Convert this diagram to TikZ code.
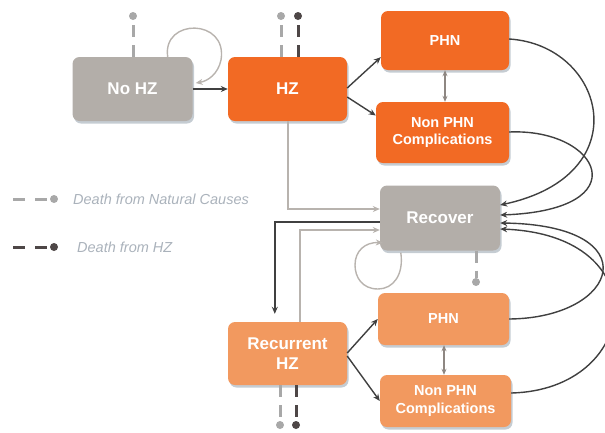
\documentclass[tikz,border=0pt]{standalone}
\usepackage{fontspec}
\setmainfont{Liberation Sans}
\usetikzlibrary{arrows.meta,shadows,calc}
\definecolor{orA}{HTML}{F26A24}
\definecolor{orB}{HTML}{F2995F}
\definecolor{grB}{HTML}{B3AEA9}
\definecolor{dk}{HTML}{404040}
\definecolor{lt}{HTML}{B8B3AE}
\definecolor{md}{HTML}{8E8782}
\definecolor{lg}{HTML}{AAB2BB}
\definecolor{dth}{HTML}{A8A8A8}
\definecolor{dthd}{HTML}{4E4747}
\definecolor{shd}{HTML}{7E8E9C}
\begin{document}
\begin{tikzpicture}[x=1pt,y=-1pt,
  box/.style={rounded corners=7pt, text=white, align=center, inner sep=0pt,
    font=\bfseries\fontsize{17}{20}\selectfont,
    drop shadow={shadow xshift=1.5pt, shadow yshift=-2.5pt, fill=shd, opacity=0.45}},
  sbox/.style={box, font=\bfseries\fontsize{14.5}{17.5}\selectfont},
  darr/.style={draw=dk, line width=1.4pt, -{Stealth[length=7pt,width=6pt]}},
  larr/.style={draw=lt, line width=1.4pt, -{Stealth[length=7pt,width=6pt]}},
  marr/.style={draw=md, line width=1.4pt, {Stealth[length=6pt,width=5pt]}-{Stealth[length=6pt,width=5pt]}},
  dl/.style={line width=3pt, dash pattern=on 12pt off 8pt},
  dot/.style={circle, inner sep=0pt, minimum size=8pt},
  legend/.style={font=\itshape\fontsize{14.5}{17}\selectfont, text=lg, inner sep=0pt}
]
\useasboundingbox (0,0) rectangle (605,432);
\clip (0,0) rectangle (605,432);

% boxes
\node[box, fill=grB, minimum width=120pt, minimum height=64pt] (nohz) at (132.5,89) {No HZ};
\node[box, fill=orA, minimum width=119pt, minimum height=64pt] (hz) at (287.5,89) {HZ};
\node[sbox, fill=orA, minimum width=128pt, minimum height=59pt] (phnT) at (445,40.5) {PHN};
\node[sbox, fill=orA, minimum width=133pt, minimum height=61pt] (nonT) at (442.5,132.5) {Non PHN\\Complications};
\node[box, fill=grB, minimum width=120pt, minimum height=65pt] (rec) at (440,218) {Recover};
\node[box, fill=orB, minimum width=119pt, minimum height=63pt] (rhz) at (287.5,353.5) {Recurrent\\HZ};
\node[sbox, fill=orB, minimum width=131pt, minimum height=52pt] (phnB) at (443.5,319) {PHN};
\node[sbox, fill=orB, minimum width=131pt, minimum height=52pt] (nonB) at (445.5,401) {Non PHN\\Complications};

% death markers
\node[dot, fill=dth] (d1) at (133,16) {};
\node[dot, fill=dth] (d2) at (281,16) {};
\node[dot, fill=dthd] (d3) at (298,16) {};
\node[dot, fill=dth] (d4) at (476,282) {};
\node[dot, fill=dth] (d5) at (280,425) {};
\node[dot, fill=dthd] (d6) at (296,425) {};
\draw[dl, draw=dth] (nohz.north -| d1) -- (d1);
\draw[dl, draw=dth] (hz.north -| d2) -- (d2);
\draw[dl, draw=dthd] (hz.north -| d3) -- (d3);
\draw[dl, draw=dth] (rec.south -| d4) -- (d4);
\draw[dl, draw=dth] (rhz.south -| d5) -- (d5);
\draw[dl, draw=dthd] (rhz.south -| d6) -- (d6);

% legend
\node[dot, fill=dth] (l1) at (54,199) {};
\node[dot, fill=dthd] (l2) at (54,247) {};
\coordinate (l1s) at (13,199);
\coordinate (l2s) at (13,247);
\draw[dl, draw=dth, dash pattern=on 12pt off 10pt] (l1s) -- (l1);
\draw[dl, draw=dthd, dash pattern=on 12pt off 10pt] (l2s) -- (l2);
\node[legend, anchor=west] (t1) at (73,199) {Death from Natural Causes};
\node[legend, anchor=west] (t2) at (77,247) {Death from HZ};

% self loops
\draw[larr] ($(nohz.north east)+(-25,0)$) .. controls (162,18) and (228,18) .. (221,60)
   .. controls (218,74) and (208,81) .. ($(nohz.east)+(3,-6)$);
\draw[larr] ($(rec.south west)+(21,2)$) .. controls (404,275) and (393,289) .. (378,289)
   .. controls (362,289) and (355,277) .. (355,265)
   .. controls (355,251) and (365,242) .. ($(rec.south west)+(3,-8)$);

% top chain
\draw[darr] (nohz.east) -- (hz.west);
\draw[darr] ($(hz.east)+(0,-1)$) -- ($(phnT.south west)+(0,-13)$);
\draw[darr] ($(hz.east)+(0,8)$) -- ($(nonT.west)+(0,-17)$);
\draw[marr] (phnT.south) -- (phnT.south |- nonT.north);

% to/from recover
\draw[larr] ($(hz.south)+(0.5,0)$) |- ($(rec.west)+(0,-9)$);
\draw[darr] ($(rec.west)+(0,4)$) -| ($(rhz.north west)+(47,-8)$);
\draw[larr] ($(rhz.north)+(12.5,0)$) |- ($(rec.west)+(0,12)$);

% bottom chain
\draw[darr] ($(rhz.east)+(0,-0.5)$) -- (phnB.west);
\draw[darr] ($(rhz.east)+(0,2.5)$) -- (nonB.west);
\draw[marr] ($(phnB.south)+(0.5,0)$) -- ($(phnB.south |- nonB.north)+(0.5,0)$);

% curves back to recover
\draw[darr] ($(phnT.east)+(0,-1.5)$) .. controls (605,45) and (640,175) .. ($(rec.east)+(0,-13)$);
\draw[darr] ($(nonT.east)+(0,-0.5)$) .. controls (600,128) and (640,210) .. ($(rec.east)+(0,-3)$);
\draw[darr] (phnB.east) .. controls (620,318) and (650,225) .. ($(rec.east)+(0,5)$);
\draw[darr] ($(nonB.east)+(0,-8)$) .. controls (640,390) and (660,235) .. ($(rec.east)+(0,11)$);
\end{tikzpicture}
\end{document}
